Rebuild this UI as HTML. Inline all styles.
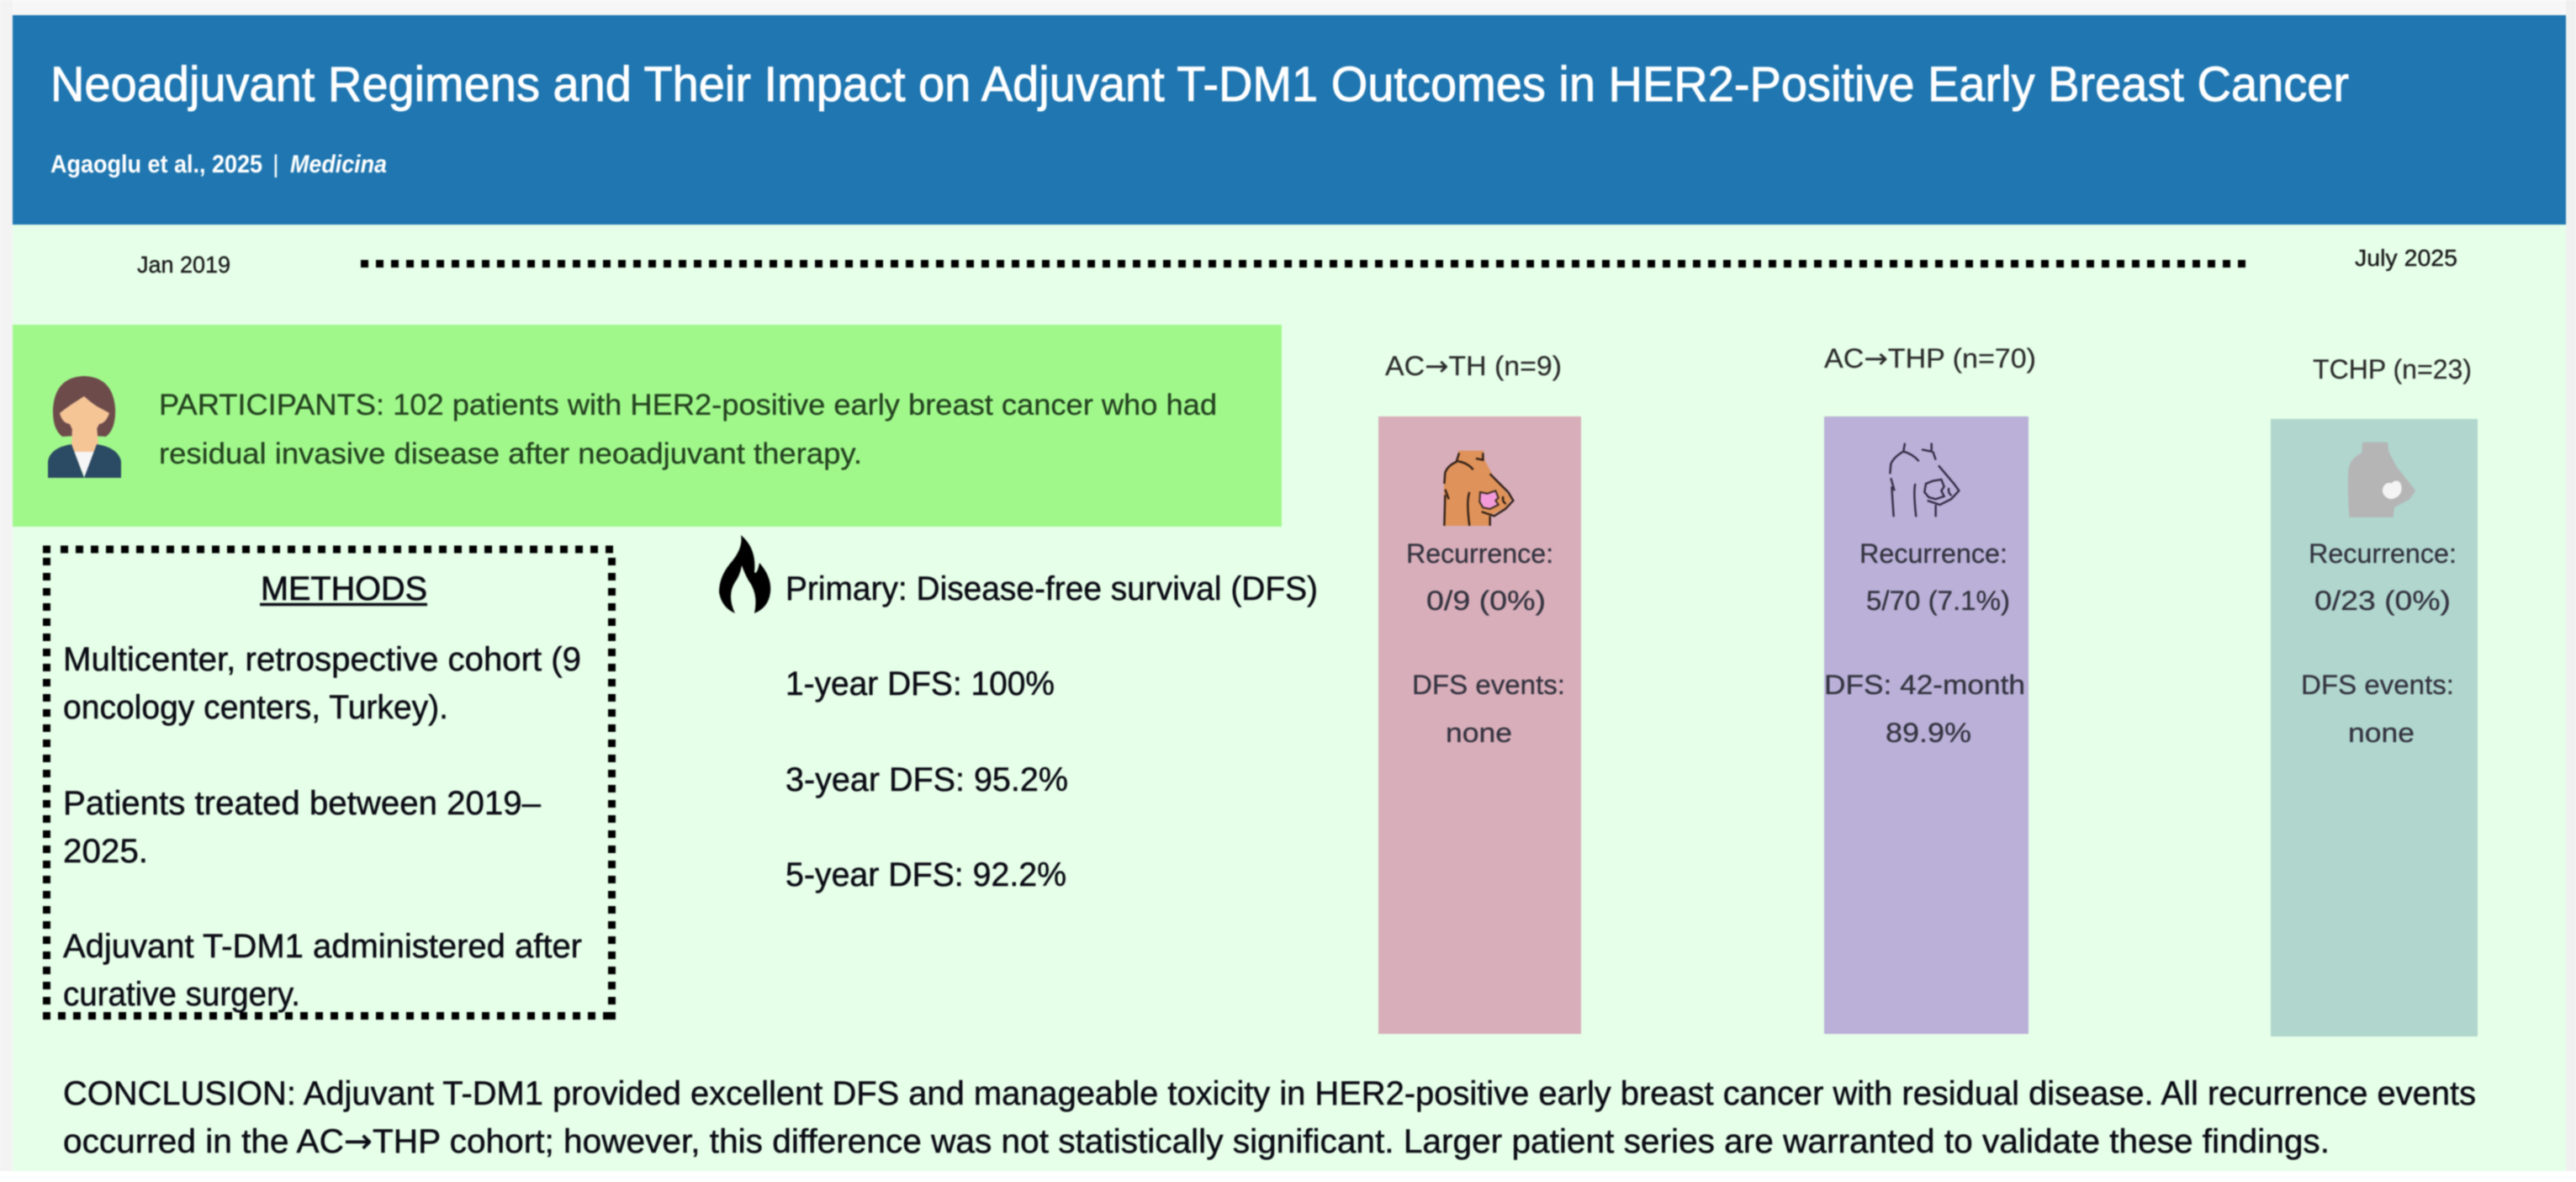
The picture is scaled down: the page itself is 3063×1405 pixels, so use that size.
<!DOCTYPE html>
<html lang="en">
<head>
<meta charset="utf-8">
<title>Neoadjuvant Regimens and T-DM1 Outcomes</title>
<style>
html,body{margin:0;padding:0;background:#fff;width:3063px;height:1405px;overflow:hidden}
svg{display:block;filter:blur(.7px)}
text{font-family:"Liberation Sans",sans-serif}
.m{font-size:40px;fill:#0b0b14;stroke:#0b0b14;stroke-width:.5px}
.c{font-size:32px;fill:#33333f;stroke:#33333f;stroke-width:.3px}
.h{font-size:32px;fill:#2a2a2a;stroke:#2a2a2a;stroke-width:.2px}
.p{font-size:35px;fill:#24421f;stroke:#24421f;stroke-width:.3px}
.d{font-size:28px;fill:#1a1a1a;stroke:#1a1a1a;stroke-width:.4px}
.a{font-family:"DejaVu Sans",sans-serif}
</style>
</head>
<body>
<svg xmlns="http://www.w3.org/2000/svg" width="3063" height="1405" viewBox="0 0 3063 1405">
  <defs>
    <path id="breast-shape" d="M102 32 L192 32 L196 66 L225 120 L292 205 L270 236 L216 264 L212 300 L55 300 Q48 200 52 130 Q58 88 100 70 Z"/>
  </defs>
  <rect x="0" y="0" width="3063" height="1405" fill="#ffffff"/>
  <rect x="0" y="0" width="3063" height="18" fill="#f7f7f7"/>
  <rect x="0" y="0" width="15" height="1392" fill="#f3f3f3"/>
  <rect x="3051" y="0" width="12" height="1392" fill="#f0f0f0"/>
  <rect x="15" y="267" width="3036" height="1125" fill="#e6ffe9"/>

  <rect x="15" y="18" width="3036" height="249" fill="#1f76b0"/>
  <text x="60" y="120" font-size="58" fill="#fff" stroke="#fff" stroke-width=".9" textLength="2733" lengthAdjust="spacingAndGlyphs">Neoadjuvant Regimens and Their Impact on Adjuvant T-DM1 Outcomes in HER2-Positive Early Breast Cancer</text>
  <text x="60" y="205" font-size="30" font-weight="bold" fill="#fff" textLength="252" lengthAdjust="spacingAndGlyphs">Agaoglu et al., 2025</text>
  <text x="324" y="205" font-size="30" fill="#fff">|</text>
  <text x="345" y="205" font-size="30" font-weight="bold" font-style="italic" fill="#fff" textLength="115" lengthAdjust="spacingAndGlyphs">Medicina</text>

  <text x="163" y="324" class="d" textLength="111" lengthAdjust="spacingAndGlyphs">Jan 2019</text>
  <line x1="429" y1="313.5" x2="2675" y2="313.5" stroke="#000" stroke-width="9" stroke-dasharray="9 9"/>
  <text x="2800" y="316" class="d" textLength="122" lengthAdjust="spacingAndGlyphs">July 2025</text>

  <rect x="15" y="386" width="1509" height="240" fill="#a0f88b"/>
  <g>
    <path d="M74 519 Q62 510 63 485 Q66 448 100 447 Q134 448 137 485 Q138 510 126 519 L110 518 L90 518Z" fill="#6e4b4b"/>
    <path d="M86 505 L115 505 L117 530 L100 560 L85 530Z" fill="#f5c596"/>
    <path d="M87 537 L115 537 L101 568Z" fill="#f6f6f6"/>
    <path d="M57 568 L57 548 Q60 532 85 528 L100 568 L115 528 Q140 532 144 548 L144 568Z" fill="#2b4a63"/>
    <path d="M71 491 Q80 484 86 480 Q94 475 100 471 Q112 482 121 486 L130 491 Q126 503 118 504 Q112 518 100 518 Q88 518 83 504 Q74 503 71 491Z" fill="#f5c596"/>
  </g>
  <text x="189" y="493" class="p" textLength="1258" lengthAdjust="spacingAndGlyphs">PARTICIPANTS: 102 patients with HER2-positive early breast cancer who had</text>
  <text x="189" y="551" class="p" textLength="836" lengthAdjust="spacingAndGlyphs">residual invasive disease after neoadjuvant therapy.</text>

  <g fill="none" stroke="#000" stroke-width="9" stroke-dasharray="9 9">
    <line x1="51" y1="653" x2="60" y2="653"/>
    <line x1="72" y1="653" x2="732" y2="653"/>
    <line x1="55.5" y1="663" x2="55.5" y2="1212"/>
    <line x1="727.5" y1="663" x2="727.5" y2="1212"/>
    <line x1="51" y1="1207.5" x2="732" y2="1207.5"/>
  </g>
  <text x="310" y="713" font-size="40" fill="#0b0b14" stroke="#0b0b14" stroke-width=".7" textLength="198" lengthAdjust="spacingAndGlyphs">METHODS</text>
  <line x1="309" y1="718.5" x2="508" y2="718.5" stroke="#0b0b14" stroke-width="3.5"/>
  <text x="75" y="797" class="m" textLength="616" lengthAdjust="spacingAndGlyphs">Multicenter, retrospective cohort (9</text>
  <text x="75" y="854" class="m" textLength="458" lengthAdjust="spacingAndGlyphs">oncology centers, Turkey).</text>
  <text x="75" y="968" class="m" textLength="568" lengthAdjust="spacingAndGlyphs">Patients treated between 2019–</text>
  <text x="75" y="1025" class="m" textLength="101" lengthAdjust="spacingAndGlyphs">2025.</text>
  <text x="75" y="1138" class="m" textLength="617" lengthAdjust="spacingAndGlyphs">Adjuvant T-DM1 administered after</text>
  <text x="75" y="1195" class="m" textLength="282" lengthAdjust="spacingAndGlyphs">curative surgery.</text>

  <path d="M881 636 Q900 652 897 680 Q900 684 903 669 Q918 686 916 704 Q914 722 897 729 Q902 706 890 690 Q885 681 882 672 Q880 684 874 692 Q864 708 874 729 Q858 722 855 704 Q855 686 868 670 Q884 652 881 636Z" fill="#000"/>
  <text x="934" y="713" class="m" textLength="633" lengthAdjust="spacingAndGlyphs">Primary: Disease-free survival (DFS)</text>
  <text x="934" y="826" class="m" textLength="320" lengthAdjust="spacingAndGlyphs">1-year DFS: 100%</text>
  <text x="934" y="940" class="m" textLength="336" lengthAdjust="spacingAndGlyphs">3-year DFS: 95.2%</text>
  <text x="934" y="1053" class="m" textLength="334" lengthAdjust="spacingAndGlyphs">5-year DFS: 92.2%</text>

  <text x="1647" y="446" class="h" textLength="210" lengthAdjust="spacingAndGlyphs">AC<tspan class="a">→</tspan>TH (n=9)</text>
  <rect x="1639" y="495" width="241" height="734" fill="#d8aeba"/>
  <g transform="translate(1700,525) scale(.3333)">
    <use href="#breast-shape" fill="#df9259"/>
    <path d="M105 40 L95 72 Q65 85 55 110 L52 150 M55 170 L68 205 M55 190 L52 300 M190 40 L190 65 L165 60 M155 100 Q135 75 100 70 M215 115 L280 180 L298 210 L270 240 L230 265 L185 250 M142 180 Q130 210 142 300 M215 265 L215 300 M262 195 Q258 215 272 222" fill="none" stroke="#2a1c14" stroke-width="7"/>
    <path d="M180 180 L205 185 L235 175 L245 200 L235 210 L245 225 L215 240 L190 235 L178 215Z" fill="#f29bd8" stroke="#3a2a20" stroke-width="6"/>
  </g>
  <text x="1672" y="669" class="c" textLength="175" lengthAdjust="spacingAndGlyphs">Recurrence:</text>
  <text x="1696" y="725" class="c" textLength="142" lengthAdjust="spacingAndGlyphs">0/9 (0%)</text>
  <text x="1679" y="825" class="c" textLength="182" lengthAdjust="spacingAndGlyphs">DFS events:</text>
  <text x="1719" y="882" class="c" textLength="79" lengthAdjust="spacingAndGlyphs">none</text>

  <text x="2169" y="437" class="h" textLength="252" lengthAdjust="spacingAndGlyphs">AC<tspan class="a">→</tspan>THP (n=70)</text>
  <rect x="2169" y="495" width="243" height="734" fill="#bab0d8"/>
  <g transform="translate(2230,515) scale(.3333)">
    <path d="M105 35 L100 65 Q65 85 55 110 L52 145 M55 160 L68 205 M58 190 L65 298 M200 35 L200 65 L165 58 M155 100 Q135 75 100 65 M205 65 L215 95 M225 115 L280 180 L298 205 L270 235 L230 255 L185 240 M142 180 Q135 210 145 298 M215 255 L215 298 M262 195 Q258 215 272 222 M180 180 L205 170 L235 165 L245 190 L235 205 L245 225 L215 235 L190 228 L175 210Z" fill="none" stroke="#2d2840" stroke-width="7"/>
  </g>
  <text x="2211" y="669" class="c" textLength="176" lengthAdjust="spacingAndGlyphs">Recurrence:</text>
  <text x="2219" y="725" class="c" textLength="171" lengthAdjust="spacingAndGlyphs">5/70 (7.1%)</text>
  <text x="2169" y="825" class="c" textLength="239" lengthAdjust="spacingAndGlyphs">DFS: 42-month</text>
  <text x="2242" y="882" class="c" textLength="102" lengthAdjust="spacingAndGlyphs">89.9%</text>

  <text x="2750" y="450" class="h" textLength="189" lengthAdjust="spacingAndGlyphs">TCHP (n=23)</text>
  <rect x="2700" y="498" width="246" height="734" fill="#b0d6ce"/>
  <g transform="translate(2775,515) scale(.3333)">
    <use href="#breast-shape" fill="#b5b5b5"/>
    <path d="M175 195 Q185 172 205 178 Q225 160 238 178 Q248 205 232 222 Q205 245 185 226 Q170 215 175 195Z" fill="#f4f4f4"/>
  </g>
  <text x="2745" y="669" class="c" textLength="176" lengthAdjust="spacingAndGlyphs">Recurrence:</text>
  <text x="2752" y="725" class="c" textLength="162" lengthAdjust="spacingAndGlyphs">0/23 (0%)</text>
  <text x="2736" y="825" class="c" textLength="182" lengthAdjust="spacingAndGlyphs">DFS events:</text>
  <text x="2792" y="882" class="c" textLength="79" lengthAdjust="spacingAndGlyphs">none</text>

  <text x="75" y="1313" class="m" textLength="2869" lengthAdjust="spacingAndGlyphs">CONCLUSION: Adjuvant T-DM1 provided excellent DFS and manageable toxicity in HER2-positive early breast cancer with residual disease. All recurrence events</text>
  <text x="75" y="1370" class="m" textLength="2695" lengthAdjust="spacingAndGlyphs">occurred in the AC<tspan class="a">→</tspan>THP cohort; however, this difference was not statistically significant. Larger patient series are warranted to validate these findings.</text>
</svg>
</body>
</html>
